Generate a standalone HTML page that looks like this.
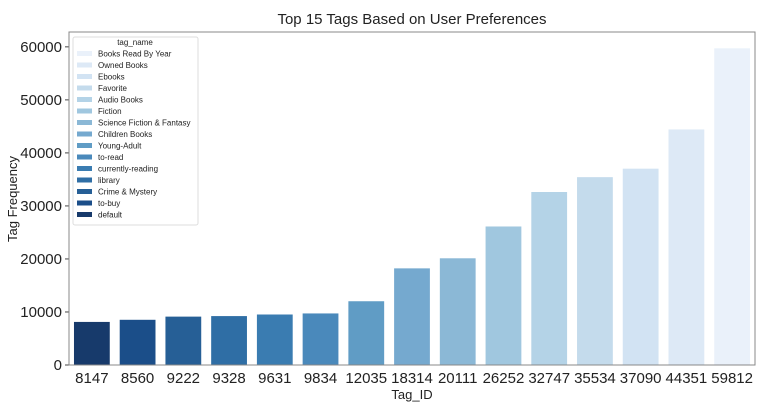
<!DOCTYPE html>
<html><head><meta charset="utf-8"><style>
html,body{margin:0;padding:0;background:#fff;}
svg{display:block;font-family:"Liberation Sans","DejaVu Sans",sans-serif;}
</style></head><body>
<svg id="chart" width="769" height="407">
<text x="412" y="24" text-anchor="middle" font-size="15" fill="#222">Top 15 Tags Based on User Preferences</text>
<g id="bars"></g>
<g id="axes"></g>
<text x="412" y="399" text-anchor="middle" font-size="13" fill="#222">Tag_ID</text>
<text transform="translate(17,199) rotate(-90)" text-anchor="middle" font-size="13" fill="#222">Tag Frequency</text>
<g id="legend"></g>
</svg>
<script>
const categories = ["8147","8560","9222","9328","9631","9834","12035","18314","20111","26252","32747","35534","37090","44351","59812"];
const values = [8200,8600,9200,9300,9600,9800,12100,18300,20200,26200,32700,35500,37100,44500,59800];
const yTicks = [0,10000,20000,30000,40000,50000,60000];
const legendNames = ["Books Read By Year","Owned Books","Ebooks","Favorite","Audio Books","Fiction","Science Fiction & Fantasy","Children Books","Young-Adult","to-read","currently-reading","library","Crime & Mystery","to-buy","default"];
const colors = ["#173a6b","#1b4e89","#265f96","#2f6ea5","#3a7cb1","#4a89bb","#609cc5","#75a9cf","#8bb8d6","#a0c7df","#b4d3e7","#c4dbec","#d2e3f3","#dde9f6","#eaf1fa"];
const NS="http://www.w3.org/2000/svg";
const L=69,R=755,T=32,B=365,yMax=62800;
const band=(R-L)/categories.length;
function x(i){return L+band*i;}
function y(v){return B-(v/yMax)*(B-T);}
function mk(t,a,p){const e=document.createElementNS(NS,t);for(const k in a)e.setAttribute(k,a[k]);p.appendChild(e);return e;}
const bars=document.getElementById('bars'),axes=document.getElementById('axes'),leg=document.getElementById('legend');
categories.forEach((c,i)=>{
  const r=mk('rect',{x:x(i)+band*0.1,y:y(values[i]),width:band*0.8,height:B-y(values[i]),fill:colors[i],stroke:"#fff","stroke-width":0.8},bars);
  
  
  const t=mk('text',{x:x(i)+band/2,y:B+18,"text-anchor":"middle","font-size":15,fill:"#222"},axes);
  t.textContent=c;
  
  
});
yTicks.forEach(v=>{
  mk('line',{x1:L-4,x2:L,y1:y(v),y2:y(v),stroke:"#444"},axes);
  const t=mk('text',{x:L-7,y:y(v)+5,"text-anchor":"end","font-size":15,fill:"#222"},axes);
  t.textContent=v;
  
  
});
const frame=mk('rect',{x:L,y:T,width:R-L,height:B-T,fill:"none",stroke:"#888","stroke-width":1},axes);


const lb=mk('rect',{x:73,y:37,width:125,height:188,fill:"#fff",stroke:"#ddd",rx:2},leg);


const lt=mk('text',{x:135,y:45,"text-anchor":"middle","font-size":8,fill:"#222"},leg);
lt.textContent="tag_name";


legendNames.forEach((n,i)=>{
  const g=mk('g',{},leg);
  
  
  const yy=51+i*11.5;
  mk('rect',{x:77,y:yy,width:15,height:5,fill:colors[14-i]},g);
  const t=mk('text',{x:98,y:yy+5.5,"font-size":8,fill:"#222"},g);
  t.textContent=n;
});
</script>
</body></html>
